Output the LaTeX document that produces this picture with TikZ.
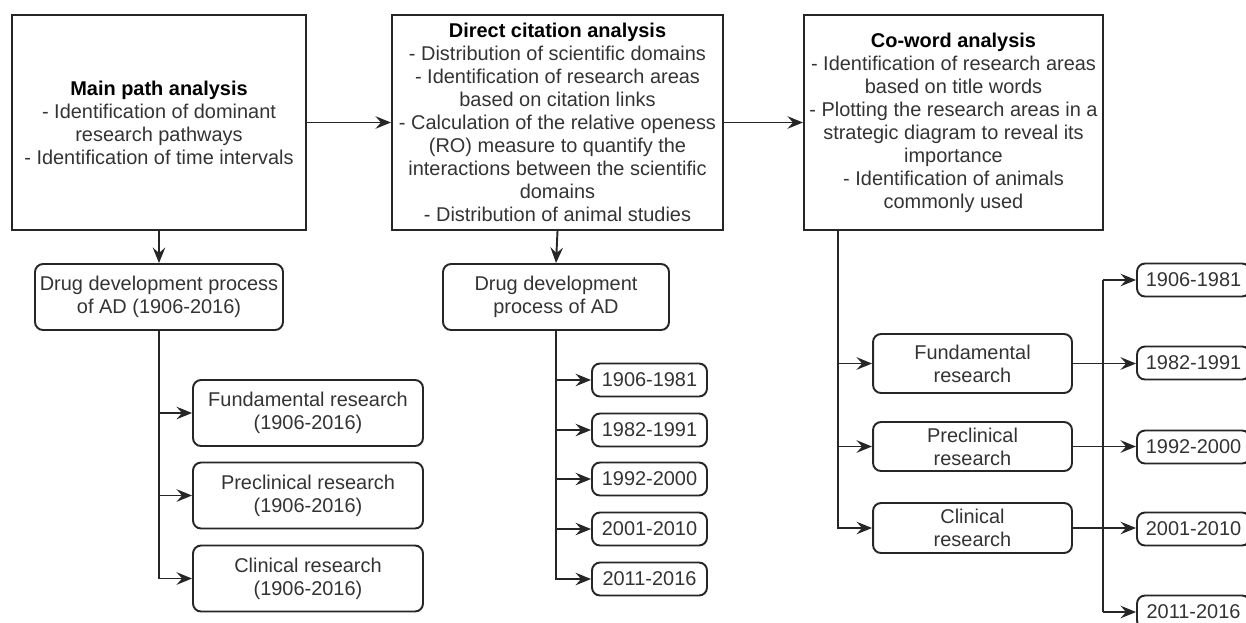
\documentclass[tikz,border=0pt]{standalone}
\usepackage{fontspec}
\setmainfont{Liberation Sans}
\usetikzlibrary{arrows.meta,calc,positioning}

\begin{document}
\begin{tikzpicture}[
  x=0.02cm,y=-0.02cm,
  >={Stealth[length=3.1mm,width=2.5mm,inset=1.1mm]},
  line/.style={draw=black!85,line width=1.1pt},
  arr/.style={->,draw=black!85,line width=1.1pt},
  mainbox/.style={rectangle,draw=black!85,line width=1.2pt,align=center,inner sep=2pt,
    font=\fontsize{11.35}{13.1}\selectfont,text=black!80},
  subbox/.style={rectangle,rounded corners=0.16cm,draw=black!85,line width=1.1pt,align=center,
    inner sep=1pt,font=\fontsize{11.35}{13.1}\selectfont,text=black!80},
  yearbox/.style={subbox,minimum width=2.30cm,minimum height=0.66cm}
]

\useasboundingbox (0,0) rectangle (1246,622);

% ---------------- the three analyses ----------------
\node[mainbox,minimum width=5.88cm,minimum height=4.30cm] (mpa) at (159,122.5)
  {\textbf{\color{black}Main path analysis}\\- Identification of dominant\\research pathways\\- Identification of time intervals};
\node[mainbox,minimum width=6.62cm,minimum height=4.30cm] (dca) at (557.5,122.5)
  {\textbf{\color{black}Direct citation analysis}\\- Distribution of scientific domains\\- Identification of research areas\\based on citation links\\- Calculation of the relative openess\\(RO) measure to quantify the\\interactions between the scientific\\domains\\- Distribution of animal studies};
\node[mainbox,minimum width=5.98cm,minimum height=4.30cm] (cwa) at (953.5,122.5)
  {\textbf{\color{black}Co-word analysis}\\- Identification of research areas\\based on title words\\- Plotting the research areas in a\\strategic diagram to reveal its\\importance\\- Identification of animals\\commonly used};

\draw[arr] (mpa.east) -- (dca.west);
\draw[arr] (dca.east) -- (cwa.west);

% ---------------- main path branch ----------------
\node[subbox,minimum width=4.96cm,minimum height=1.32cm] (drug1) at (159,297)
  {Drug development process\\of AD (1906-2016)};
\draw[arr] (mpa.south) -- (drug1.north);

\node[subbox,minimum width=4.60cm,minimum height=1.32cm] (fund1) at (308,413)
  {Fundamental research\\(1906-2016)};
\node[subbox,minimum width=4.60cm,minimum height=1.32cm] (pre1) at (308,495.5)
  {Preclinical research\\(1906-2016)};
\node[subbox,minimum width=4.60cm,minimum height=1.32cm] (clin1) at (308,578.5)
  {Clinical research\\(1906-2016)};

\foreach \n in {fund1,pre1,clin1}
  \draw[arr] (drug1.south) |- (\n.west);

% ---------------- direct citation branch ----------------
\node[subbox,minimum width=4.52cm,minimum height=1.32cm] (drug2) at (556,297)
  {Drug development\\process of AD};
\draw[arr] (dca.south) -- (drug2.north);

\node[yearbox] (dy1) at (649.5,380) {1906-1981};
\node[yearbox] (dy2) at (649.5,430) {1982-1991};
\node[yearbox] (dy3) at (649.5,479) {1992-2000};
\node[yearbox] (dy4) at (649.5,529) {2001-2010};
\node[yearbox] (dy5) at (649.5,579) {2011-2016};

\foreach \n in {dy1,dy2,dy3,dy4,dy5}
  \draw[arr] (drug2.south) |- (\n.west);

% ---------------- co-word branch ----------------
\coordinate (cwroot) at ($(cwa.south west)+(35,0)$);

\node[subbox,minimum width=3.98cm,minimum height=1.18cm] (cwF) at (972.5,363.5)
  {Fundamental\\research};
\node[subbox,minimum width=3.98cm,minimum height=0.98cm] (cwP) at (972.5,446.5)
  {Preclinical\\research};
\node[subbox,minimum width=3.98cm,minimum height=1.00cm] (cwC) at (972.5,528)
  {Clinical\\research};

\foreach \n in {cwF,cwP,cwC}
  \draw[arr] (cwroot) |- (\n.west);

% year boxes run past the right edge, as in the source
\node[yearbox,minimum width=2.26cm] (cy1) at (1193.5,280) {1906-1981};
\node[yearbox,minimum width=2.26cm] (cy2) at (1193.5,363) {1982-1991};
\node[yearbox,minimum width=2.26cm] (cy3) at (1193.5,447) {1992-2000};
\node[yearbox,minimum width=2.26cm] (cy4) at (1193.5,529) {2001-2010};
\node[yearbox,minimum width=2.26cm] (cy5) at (1193.5,612) {2011-2016};

\coordinate (spTop) at ($(cy1.west)+(-33,0)$);
\coordinate (spBot) at ($(cy5.west)+(-33,0)$);
\draw[line] (spTop) -- (spBot);
\draw[arr] (spTop) -- (cy1.west);
\draw[arr] (spBot) -- (cy5.west);

\draw[arr] (cwF.east) -- (cwF.east -| cy2.west);
\draw[arr] (cwP.east) -- (cwP.east -| cy3.west);
\draw[arr] (cwC.east) -- (cwC.east -| cy4.west);

\end{tikzpicture}
\end{document}
